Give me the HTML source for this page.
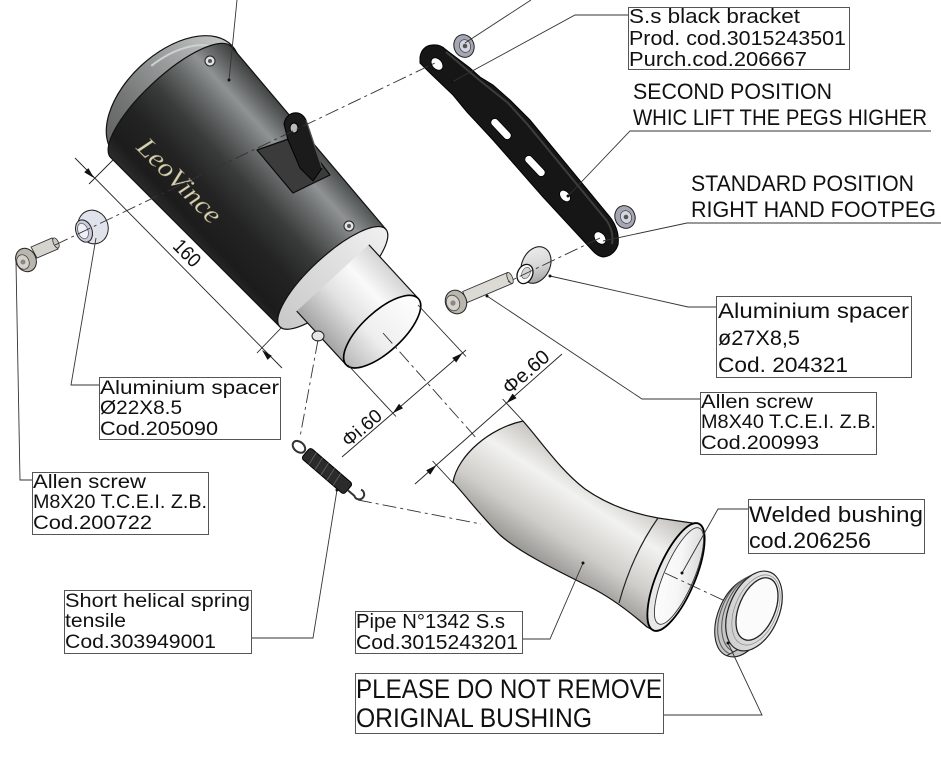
<!DOCTYPE html>
<html><head><meta charset="utf-8"><style>
html,body{margin:0;padding:0;background:#fff;}
svg{display:block;}
text{font-family:"Liberation Sans",sans-serif;fill:#111;}
</style></head><body>
<svg width="941" height="768" viewBox="0 0 941 768" xmlns="http://www.w3.org/2000/svg">
<defs>
<linearGradient id="bodyG" gradientUnits="userSpaceOnUse" x1="0" y1="-82" x2="0" y2="82">
<stop offset="0" stop-color="#3c3e3e"/><stop offset="0.12" stop-color="#6c6f6f"/><stop offset="0.2" stop-color="#8f9393"/><stop offset="0.32" stop-color="#6a6d6d"/><stop offset="0.5" stop-color="#3a3b3b"/><stop offset="0.7" stop-color="#232323"/><stop offset="0.9" stop-color="#1c1c1c"/><stop offset="1" stop-color="#2c2c2c"/>
</linearGradient>
<linearGradient id="domeG" gradientUnits="userSpaceOnUse" x1="0" y1="-80" x2="0" y2="80">
<stop offset="0" stop-color="#c4c6c6"/><stop offset="0.3" stop-color="#a0a3a3"/><stop offset="0.7" stop-color="#747676"/><stop offset="1" stop-color="#606262"/>
</linearGradient>
<linearGradient id="outG" gradientUnits="userSpaceOnUse" x1="0" y1="-49" x2="0" y2="49">
<stop offset="0" stop-color="#d4d4d4"/><stop offset="0.3" stop-color="#fafafa"/><stop offset="0.6" stop-color="#e2e2e2"/><stop offset="1" stop-color="#a4a4a4"/>
</linearGradient>
<linearGradient id="faceG" gradientUnits="userSpaceOnUse" x1="0" y1="-72" x2="0" y2="72">
<stop offset="0" stop-color="#f0f0f0"/><stop offset="1" stop-color="#c8c8c8"/>
</linearGradient>
<linearGradient id="openG" gradientUnits="userSpaceOnUse" x1="0" y1="-49" x2="0" y2="49">
<stop offset="0" stop-color="#ffffff"/><stop offset="0.6" stop-color="#eeeeee"/><stop offset="1" stop-color="#b8b8b8"/>
</linearGradient>
<linearGradient id="pipeG" gradientUnits="userSpaceOnUse" x1="600" y1="468" x2="528" y2="578">
<stop offset="0" stop-color="#c2c0bc"/><stop offset="0.28" stop-color="#f2f2f0"/><stop offset="0.6" stop-color="#cfcdc9"/><stop offset="1" stop-color="#7a7875"/>
</linearGradient>
<linearGradient id="inG" x1="0" y1="0" x2="1" y2="1">
<stop offset="0" stop-color="#d0d0d0"/><stop offset="0.5" stop-color="#f6f6f6"/><stop offset="1" stop-color="#ffffff"/>
</linearGradient>
<linearGradient id="ringG" x1="0" y1="0" x2="1" y2="1">
<stop offset="0" stop-color="#f4f4f4"/><stop offset="1" stop-color="#c8c8c8"/>
</linearGradient>
<linearGradient id="coneG" x1="0" y1="0" x2="0.6" y2="1">
<stop offset="0" stop-color="#f2f2f2"/><stop offset="0.6" stop-color="#d8d8d8"/><stop offset="1" stop-color="#a8a8a8"/>
</linearGradient>
</defs>
<rect width="941" height="768" fill="#fff"/>

<!-- ===== MUFFLER ===== -->
<g transform="translate(171,102) rotate(47.4)">
  <ellipse cx="0" cy="-3" rx="47" ry="80" fill="url(#domeG)" stroke="#111" stroke-width="1.2"/>
  <path d="M-8,-70 A40,72 0 0 0 -40,-10" fill="none" stroke="#d0d2d2" stroke-width="2"/>
  <path d="M0,-82 A26,82 0 0 0 0,82 L239,72 L239,-72 Z" fill="url(#bodyG)" stroke="#111" stroke-width="1.2"/>
  <ellipse cx="239" cy="0" rx="22" ry="72" fill="url(#faceG)" stroke="#111" stroke-width="1.2"/>
  <rect x="239" y="-49" width="73" height="98" fill="url(#outG)"/>
  <line x1="239" y1="-49" x2="312" y2="-49" stroke="#111" stroke-width="1.2"/>
  <line x1="239" y1="49" x2="312" y2="49" stroke="#111" stroke-width="1.2"/>
  <ellipse cx="312" cy="0" rx="20" ry="49" fill="url(#openG)" stroke="#000" stroke-width="1.6"/>
  <text x="8" y="58" transform="rotate(-2)" font-size="27" textLength="108" lengthAdjust="spacingAndGlyphs" style="font-family:'Liberation Serif',serif;font-style:italic;fill:#d8d3b2;stroke:#5c5a4a;stroke-width:0.4">LeoVince</text>
</g>
<ellipse cx="318" cy="336" rx="6" ry="5" fill="#e6e6e6" stroke="#222" stroke-width="1"/>
<path d="M257,150 L300,135 L330,175 L293,193 Z" fill="#3b3b3b" stroke="#0a0a0a" stroke-width="1.2" stroke-linejoin="round"/>
<path d="M284,124 C286,112 300,108 306,120 L322,168 L313,181 L300,168 L288,140 Z" fill="#1b1b1b" stroke="#000" stroke-width="1"/>
<path d="M306,120 L322,168" stroke="#555" stroke-width="1.2"/>
<ellipse cx="294" cy="128" rx="4" ry="5" fill="#bbb" stroke="#000" stroke-width="1"/>
<circle cx="210" cy="61" r="5" fill="#e2e2e2" stroke="#222"/><circle cx="210" cy="61" r="2" fill="#555"/>
<circle cx="349" cy="226" r="5" fill="#e2e2e2" stroke="#222"/><circle cx="349" cy="226" r="2" fill="#555"/>

<!-- ===== LEFT SCREW & SPACER ===== -->
<polygon points="31,247 52,238 58,249 37,258" fill="#d6d4ce" stroke="#333" stroke-width="0.9"/>
<ellipse cx="56" cy="243" rx="2.5" ry="5.5" transform="rotate(-25 56 243)" fill="#c9c7c1" stroke="#333" stroke-width="0.8"/>
<ellipse cx="26" cy="260" rx="10" ry="12" transform="rotate(-25 26 260)" fill="#b9b6ae" stroke="#222" stroke-width="1"/>
<ellipse cx="23" cy="262" rx="6" ry="7.5" transform="rotate(-25 23 262)" fill="#d5d2cb" stroke="#444" stroke-width="0.8"/>
<circle cx="23" cy="262" r="2.5" fill="#888"/>
<ellipse cx="93" cy="227" rx="15" ry="17" transform="rotate(-20 93 227)" fill="#e0e2ec" stroke="#222" stroke-width="1"/>
<ellipse cx="84" cy="231" rx="8" ry="11.5" transform="rotate(-20 84 231)" fill="#c8cbdc" stroke="#222" stroke-width="1"/>
<ellipse cx="83" cy="231" rx="5" ry="8" transform="rotate(-20 83 231)" fill="#eef0f7" stroke="#555" stroke-width="0.7"/>

<!-- ===== BRACKET ===== -->
<path d="M420,57 Q422,46 432,45 Q440,44 445,49 L470,68 L480,77 L493,85 L510,100 L530,120 L610,217 Q620,230 618,245 Q614,256 603,257 Q597,256 592,250 L543,197 L493,140 L467,112 L453,95 L430,73 L420,63 Z" fill="#161616" stroke="#000" stroke-width="1"/>
<path d="M446,52 L478,79 L508,103 L528,125 L607,221 Q614,232 612,244" fill="none" stroke="#3d3d3d" stroke-width="2"/>
<ellipse cx="437" cy="64" rx="5" ry="7" transform="rotate(-40 437 64)" fill="#fff" stroke="#000" stroke-width="0.8"/>
<rect x="488" y="125" width="26" height="8" rx="4" transform="rotate(46.6 501 129)" fill="#fff" stroke="#000" stroke-width="0.8"/>
<rect x="522" y="162" width="26" height="8" rx="4" transform="rotate(46.6 535 166)" fill="#fff" stroke="#000" stroke-width="0.8"/>
<ellipse cx="565" cy="196" rx="4.5" ry="6.5" transform="rotate(-40 565 196)" fill="#fff" stroke="#000" stroke-width="0.8"/>
<ellipse cx="600" cy="238" rx="5" ry="7" transform="rotate(-40 600 238)" fill="#fff" stroke="#000" stroke-width="0.8"/>
<ellipse cx="464" cy="46" rx="10" ry="11.5" transform="rotate(-20 464 46)" fill="#a5a6b4" stroke="#222" stroke-width="1"/>
<ellipse cx="465" cy="46" rx="5.5" ry="6.5" transform="rotate(-20 465 46)" fill="#d4d5e0" stroke="#444" stroke-width="0.7"/>
<circle cx="465" cy="46" r="2.3" fill="#555"/>
<ellipse cx="625" cy="217" rx="10" ry="11.5" transform="rotate(-20 625 217)" fill="#a5a6b4" stroke="#222" stroke-width="1"/>
<ellipse cx="626" cy="217" rx="5.5" ry="6.5" transform="rotate(-20 626 217)" fill="#d4d5e0" stroke="#444" stroke-width="0.7"/>
<circle cx="626" cy="217" r="2.3" fill="#555"/>

<!-- ===== RIGHT SCREW & SPACER ===== -->
<polygon points="462.7,291.5 507.7,272.5 512.3,283.5 467.3,302.5" fill="#dcdad4" stroke="#333" stroke-width="0.9"/>
<ellipse cx="510" cy="278" rx="2.5" ry="6" transform="rotate(-23 510 278)" fill="#cfcdc7" stroke="#333" stroke-width="0.8"/>
<ellipse cx="456" cy="302" rx="10.5" ry="12" transform="rotate(-23 456 302)" fill="#b9b6ae" stroke="#222" stroke-width="1"/>
<ellipse cx="453" cy="303" rx="6.5" ry="8" transform="rotate(-23 453 303)" fill="#d5d2cb" stroke="#444" stroke-width="0.8"/>
<circle cx="453" cy="303" r="2.6" fill="#888"/>
<ellipse cx="536" cy="265" rx="14" ry="19" transform="rotate(25 536 265)" fill="url(#coneG)" stroke="#222" stroke-width="1.1"/>
<ellipse cx="525" cy="274" rx="7.5" ry="10" transform="rotate(25 525 274)" fill="#fdfdfd" stroke="#111" stroke-width="1.3"/>
<ellipse cx="526" cy="273" rx="4" ry="6" transform="rotate(25 526 273)" fill="#d6d6d6" stroke="#555" stroke-width="0.6"/>

<!-- ===== SPRING ===== -->
<g transform="translate(327,471) rotate(40.7)">
  <rect x="-28" y="-7" width="56" height="14" rx="3" fill="#2b2b2b" stroke="#000" stroke-width="1"/>
  <path d="M-20,-7 L-18,7 M-12,-7 L-10,7 M-4,-7 L-2,7 M4,-7 L6,7 M12,-7 L14,7" stroke="#666" stroke-width="0.8"/>
  <ellipse cx="-37" cy="0" rx="7" ry="5" fill="none" stroke="#333" stroke-width="2"/>
  <path d="M28,1 L37,1 A5,5 0 1 0 38,-8" fill="none" stroke="#333" stroke-width="2"/>
</g>

<!-- ===== PIPE ===== -->
<path d="M523,421 C540,440 560,470 585,489 C605,503 630,513 658,518 L699,524 L653,630 L647,627 C630,612 610,597 590,587 C560,572 520,553 500,535 C480,515 465,495 453,482 C458,455 490,428 523,421 Z" fill="url(#pipeG)" stroke="#111" stroke-width="1.2"/>
<path d="M658,518 Q632,555 619,603" fill="none" stroke="#222" stroke-width="1.2"/>
<ellipse cx="676" cy="577" rx="58" ry="19" transform="rotate(113 676 577)" fill="#e8e8e8" stroke="#000" stroke-width="1.8"/>
<ellipse cx="679" cy="576" rx="52" ry="15" transform="rotate(113 679 576)" fill="url(#inG)" stroke="#333" stroke-width="0.9"/>

<!-- ===== BUSHING ===== -->
<ellipse cx="743" cy="617" rx="42" ry="25" transform="rotate(113 743 617)" fill="#c6c6c6" stroke="#222" stroke-width="1.1"/>
<polygon points="770.4,572.3 759.4,578.3 726.6,655.7 737.6,649.7" fill="#d4d4d4"/>
<line x1="770.4" y1="572.3" x2="759.4" y2="578.3" stroke="#222" stroke-width="1"/>
<line x1="737.6" y1="649.7" x2="726.6" y2="655.7" stroke="#222" stroke-width="1"/>
<path d="M766.4,574.3 A42,25 113 0 0 733.6,651.7" fill="none" stroke="#555" stroke-width="1"/>
<path d="M762.4,576.3 A42,25 113 0 0 729.6,653.7" fill="none" stroke="#555" stroke-width="1"/>
<ellipse cx="754" cy="611" rx="42" ry="25" transform="rotate(113 754 611)" fill="url(#ringG)" stroke="#222" stroke-width="1.2"/>
<ellipse cx="756" cy="610" rx="37" ry="21" transform="rotate(113 756 610)" fill="none" stroke="#888" stroke-width="0.7"/>
<ellipse cx="757" cy="609" rx="33" ry="18" transform="rotate(113 757 609)" fill="#fbfbfb" stroke="#222" stroke-width="1.3"/>

<!-- ===== CENTER (dash-dot) LINES ===== -->
<g stroke="#333" stroke-width="0.9" fill="none" stroke-dasharray="14 4 3 4">
  <line x1="55" y1="245" x2="437" y2="62"/>
  <line x1="600" y1="238" x2="508" y2="282"/>
  <line x1="318" y1="340" x2="300" y2="437"/>
  <line x1="358" y1="500" x2="481" y2="524"/>
  <line x1="383" y1="333" x2="478" y2="440"/>
  <line x1="665" y1="573" x2="725" y2="601"/>
</g>

<!-- ===== LEADERS ===== -->
<g stroke="#333" stroke-width="0.9" fill="none">
  <polyline points="237,0 229,80"/>
  <polyline points="531,0 465,43"/>
  <polyline points="628,15 575,15 452,82"/>
  <polyline points="931,131 630,131 568,196"/>
  <polyline points="941,223 687,223 603,241"/>
  <polyline points="716,307 688,307 550,276"/>
  <polyline points="700,399 642,399 487,296"/>
  <polyline points="748,509 718,509 682,573"/>
  <polyline points="663,715 762,715 728,643"/>
  <polyline points="522,639 550,639 583,563"/>
  <polyline points="251,638 313,638 337,490"/>
  <polyline points="32,480 20,480 16,262"/>
  <polyline points="99,385 71,385 96,238"/>
</g>
<g fill="#111">
  <circle cx="229" cy="80" r="1.5"/><circle cx="452" cy="82" r="1.5"/><circle cx="568" cy="196" r="1.5"/>
  <circle cx="550" cy="276" r="1.5"/><circle cx="487" cy="296" r="1.5"/><circle cx="682" cy="573" r="1.5"/>
  <circle cx="728" cy="643" r="1.5"/><circle cx="583" cy="563" r="1.5"/><circle cx="337" cy="490" r="1.5"/>
</g>

<!-- ===== DIMENSIONS ===== -->
<g stroke="#222" stroke-width="0.9" fill="none">
  <line x1="113" y1="160" x2="89" y2="184"/>
  <line x1="282" y1="327" x2="257" y2="353"/>
  <line x1="75" y1="158" x2="282" y2="368"/>
  <line x1="418" y1="305" x2="466" y2="356.5"/>
  <line x1="348" y1="365" x2="396" y2="416.5"/>
  <line x1="342" y1="457" x2="466" y2="350"/>
  <line x1="523" y1="421" x2="502.6" y2="399"/>
  <line x1="453" y1="483" x2="432.6" y2="461"/>
  <line x1="415" y1="484" x2="562" y2="354"/>
</g>
<g fill="#111">
  <polygon points="94,178 84.2,172.3 88.4,168.1"/>
  <polygon points="262,350 271.8,355.7 267.6,359.9"/>
  <polygon points="462.5,353 456.2,362.5 452.2,357.9"/>
  <polygon points="392.7,413.2 403,408.3 399,403.7"/>
  <polygon points="506.4,403.1 516.6,398.1 512.6,393.6"/>
  <polygon points="436.4,465.1 430.2,474.7 426.2,470.2"/>
</g>
<text transform="translate(178,262) rotate(45.3)" x="0" y="-6" font-size="20" text-anchor="middle" textLength="30" lengthAdjust="spacingAndGlyphs">160</text>
<text transform="translate(368,435) rotate(-40.8)" x="0" y="-3" font-size="19" text-anchor="middle" textLength="46" lengthAdjust="spacingAndGlyphs">Φi.60</text>
<text transform="translate(533,380) rotate(-41.5)" x="0" y="-4" font-size="20" text-anchor="middle" textLength="55" lengthAdjust="spacingAndGlyphs">Φe.60</text>

<!-- ===== LABEL BOXES ===== -->
<g stroke="#555" stroke-width="1" fill="none">
  <rect x="628.5" y="7.5" width="221" height="62"/>
  <rect x="716.5" y="296.5" width="195" height="81"/>
  <rect x="700.5" y="392.5" width="176" height="62"/>
  <rect x="748.5" y="499.5" width="176" height="54"/>
  <rect x="355.5" y="611.5" width="167" height="42"/>
  <rect x="355.5" y="673.5" width="308" height="60"/>
  <rect x="64.5" y="590.5" width="187" height="63"/>
  <rect x="32.5" y="472.5" width="176" height="62"/>
  <rect x="99.5" y="377.5" width="181" height="62"/>
</g>
<g>
<text x="629" y="23" font-size="20" textLength="171" lengthAdjust="spacingAndGlyphs">S.s black bracket</text>
<text x="629" y="45" font-size="20" textLength="217" lengthAdjust="spacingAndGlyphs">Prod. cod.3015243501</text>
<text x="629" y="66" font-size="20" textLength="178" lengthAdjust="spacingAndGlyphs">Purch.cod.206667</text>

<text x="633" y="99" font-size="22" textLength="199" lengthAdjust="spacingAndGlyphs">SECOND POSITION</text>
<text x="633" y="125" font-size="22" textLength="294" lengthAdjust="spacingAndGlyphs">WHIC LIFT THE PEGS HIGHER</text>
<text x="691" y="191" font-size="22" textLength="223" lengthAdjust="spacingAndGlyphs">STANDARD POSITION</text>
<text x="691" y="217" font-size="22" textLength="245" lengthAdjust="spacingAndGlyphs">RIGHT HAND FOOTPEG</text>

<text x="718" y="318" font-size="21" textLength="191" lengthAdjust="spacingAndGlyphs">Aluminium spacer</text>
<text x="718" y="345" font-size="21" textLength="82" lengthAdjust="spacingAndGlyphs">ø27X8,5</text>
<text x="718" y="372" font-size="21" textLength="130" lengthAdjust="spacingAndGlyphs">Cod. 204321</text>

<text x="701" y="408" font-size="19" textLength="112" lengthAdjust="spacingAndGlyphs">Allen screw</text>
<text x="701" y="428" font-size="19" textLength="175" lengthAdjust="spacingAndGlyphs">M8X40 T.C.E.I. Z.B.</text>
<text x="701" y="449" font-size="19" textLength="118" lengthAdjust="spacingAndGlyphs">Cod.200993</text>

<text x="749" y="522" font-size="22" textLength="174" lengthAdjust="spacingAndGlyphs">Welded bushing</text>
<text x="749" y="548" font-size="22" textLength="122" lengthAdjust="spacingAndGlyphs">cod.206256</text>

<text x="356" y="628" font-size="20" textLength="149" lengthAdjust="spacingAndGlyphs">Pipe N°1342 S.s</text>
<text x="356" y="649" font-size="20" textLength="162" lengthAdjust="spacingAndGlyphs">Cod.3015243201</text>

<text x="356" y="698" font-size="27" textLength="306" lengthAdjust="spacingAndGlyphs">PLEASE DO NOT REMOVE</text>
<text x="356" y="727" font-size="27" textLength="236" lengthAdjust="spacingAndGlyphs">ORIGINAL BUSHING</text>

<text x="65" y="607" font-size="19" textLength="185" lengthAdjust="spacingAndGlyphs">Short helical spring</text>
<text x="65" y="627" font-size="19" textLength="61" lengthAdjust="spacingAndGlyphs">tensile</text>
<text x="65" y="648" font-size="19" textLength="151" lengthAdjust="spacingAndGlyphs">Cod.303949001</text>

<text x="33" y="488" font-size="19" textLength="113" lengthAdjust="spacingAndGlyphs">Allen screw</text>
<text x="33" y="508" font-size="19" textLength="174" lengthAdjust="spacingAndGlyphs">M8X20 T.C.E.I. Z.B.</text>
<text x="33" y="529" font-size="19" textLength="119" lengthAdjust="spacingAndGlyphs">Cod.200722</text>

<text x="100" y="394" font-size="19" textLength="179" lengthAdjust="spacingAndGlyphs">Aluminium spacer</text>
<text x="100" y="414" font-size="19" textLength="82" lengthAdjust="spacingAndGlyphs">Ø22X8.5</text>
<text x="100" y="435" font-size="19" textLength="118" lengthAdjust="spacingAndGlyphs">Cod.205090</text>
</g>
</svg>
</body></html>
